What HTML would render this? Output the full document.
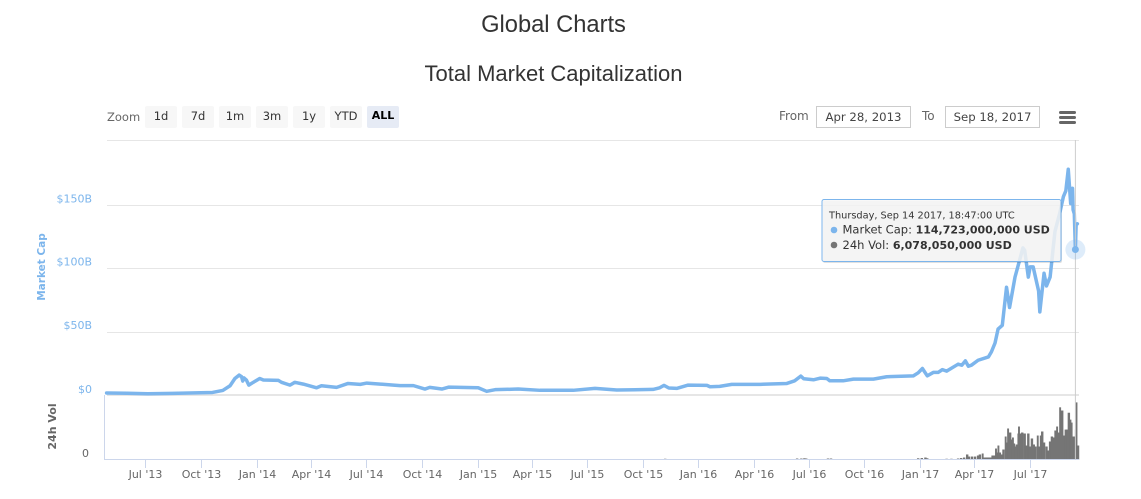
<!DOCTYPE html>
<html lang="en">
<head>
<meta charset="utf-8">
<title>Global Charts</title>
<style>
  html,body{margin:0;padding:0;background:#fff;width:1141px;height:499px;overflow:hidden}
  #stage{position:relative;width:1141px;height:499px;overflow:hidden;font-family:"DejaVu Sans",sans-serif}
  .abs{position:absolute;white-space:nowrap}
  h1,h2{margin:0;font-family:"Liberation Sans",sans-serif;font-weight:400;color:#333;text-align:center;position:absolute;left:0;width:1107px}
  h1{top:11px;font-size:23.7px;line-height:28px}
  h2{top:60px;font-size:22px;line-height:28px}
  .btn{position:absolute;top:106px;width:32px;height:22px;background:#f7f7f7;border-radius:2px;font-size:11.5px;line-height:20px;text-align:center;color:#333}
  .btn.on{background:#e6ebf5;color:#000;font-weight:700;font-size:11px}
  .lbl{position:absolute;font-size:12px;color:#666;line-height:20px;top:106px}
  .inp{position:absolute;top:106px;width:93px;height:20px;border:1px solid #ccc;font-size:11.7px;line-height:20px;text-align:center;color:#444;background:#fff}
  .bar-line{position:absolute;left:1059px;width:17px;height:3px;border-radius:2px;background:#666}
  svg{position:absolute;left:0;top:0}
  svg text{font-family:"DejaVu Sans",sans-serif}
</style>
</head>
<body>
<div id="stage">
  <h1>Global Charts</h1>
  <h2>Total Market Capitalization</h2>

  <div class="lbl" style="left:107px;top:107px;font-size:11.5px">Zoom</div>
  <div class="btn" style="left:145px">1d</div>
  <div class="btn" style="left:182px">7d</div>
  <div class="btn" style="left:219px">1m</div>
  <div class="btn" style="left:256px">3m</div>
  <div class="btn" style="left:293px">1y</div>
  <div class="btn" style="left:330px">YTD</div>
  <div class="btn on" style="left:367px">ALL</div>

  <div class="lbl" style="left:779px">From</div>
  <div class="inp" style="left:816px">Apr 28, 2013</div>
  <div class="lbl" style="left:922px">To</div>
  <div class="inp" style="left:945px">Sep 18, 2017</div>

  <div class="abs" style="left:1059px;top:110px;width:17px;height:15px">
    <div class="bar-line" style="left:0;top:1px"></div>
    <div class="bar-line" style="left:0;top:6px"></div>
    <div class="bar-line" style="left:0;top:11px"></div>
  </div>

  <svg id="chart" width="1141" height="499" viewBox="0 0 1141 499" xmlns="http://www.w3.org/2000/svg"></svg>
</div>

<script>
// ---- Market cap series (USD billions) ----
const capDates = ['2013-04-28','2013-06-01','2013-07-05','2013-08-15','2013-10-01','2013-10-20','2013-11-06','2013-11-18','2013-11-26','2013-12-03','2013-12-07','2013-12-09','2013-12-11','2013-12-15','2013-12-19','2013-12-26','2014-01-06','2014-01-12','2014-02-06','2014-02-11','2014-02-25','2014-03-05','2014-03-19','2014-04-10','2014-04-18','2014-05-13','2014-06-01','2014-06-21','2014-07-02','2014-08-15','2014-08-26','2014-09-17','2014-10-06','2014-10-14','2014-11-03','2014-11-14','2015-01-02','2015-01-16','2015-01-30','2015-03-09','2015-04-14','2015-06-08','2015-07-14','2015-08-19','2015-10-18','2015-10-29','2015-11-05','2015-11-13','2015-11-26','2015-12-15','2016-01-15','2016-01-20','2016-02-05','2016-02-25','2016-04-12','2016-05-26','2016-06-08','2016-06-18','2016-06-23','2016-07-09','2016-07-20','2016-07-31','2016-08-05','2016-08-27','2016-09-13','2016-10-16','2016-11-07','2016-12-21','2016-12-29','2017-01-05','2017-01-13','2017-01-23','2017-01-31','2017-02-07','2017-02-14','2017-03-05','2017-03-11','2017-03-17','2017-03-22','2017-03-27','2017-04-07','2017-04-24','2017-04-29','2017-05-05','2017-05-10','2017-05-17','2017-05-24','2017-05-29','2017-06-07','2017-06-15','2017-06-20','2017-06-23','2017-06-29','2017-07-02','2017-07-07','2017-07-16','2017-07-18','2017-07-25','2017-07-29','2017-08-04','2017-08-12','2017-08-20','2017-08-26','2017-08-30','2017-09-03','2017-09-07','2017-09-10','2017-09-11','2017-09-13','2017-09-14T18:47','2017-09-16','2017-09-18'];
const capValues = [1.6,1.4,1.0,1.3,1.8,2.0,3.6,7.3,13,15.7,14.4,11,13.5,11.8,7.8,9.9,13,11.8,11.5,10,7.8,10,8.6,5.7,7.3,6,9.1,8.4,9.4,7.8,7.4,7.4,4.7,6,4.7,6.2,5.7,2.9,4.2,4.7,3.7,3.7,5.2,3.9,4.4,5.7,7.6,5.5,5.2,7.8,7.6,6.5,6.8,8.4,8.4,9.1,11.2,14.9,12.8,12,13.3,13,11.2,11.2,12.5,12.5,14.4,15.1,17.5,20.9,15.1,17.8,17.8,20,18.8,24.3,23.5,26.9,22.7,23.5,27.4,30,34,41,52,55,85,69,93,107,116,114,93,101,101,82,65.5,96,86,93,129,143.5,156.5,161,178,151,163,146,143,114.723,134,135];

// ---- 24h volume series (USD billions) ----
const volDates = ['2015-11-05','2016-06-10','2016-06-17','2016-06-22','2016-06-25','2016-07-31','2016-08-05','2016-12-27','2017-01-02','2017-01-08','2017-01-11','2017-02-12','2017-02-20','2017-03-03','2017-03-08','2017-03-13','2017-03-18','2017-03-21','2017-03-26','2017-03-31','2017-04-05','2017-04-08','2017-04-13','2017-04-15','2017-04-18','2017-04-20','2017-04-22','2017-04-24','2017-04-26','2017-04-29','2017-05-01','2017-05-03','2017-05-05','2017-05-07','2017-05-09','2017-05-11','2017-05-14','2017-05-17','2017-05-21','2017-05-23','2017-05-25','2017-05-27','2017-05-28','2017-05-31','2017-06-02','2017-06-04','2017-06-06','2017-06-08','2017-06-11','2017-06-12','2017-06-14','2017-06-17','2017-06-21','2017-06-24','2017-06-27','2017-06-30','2017-07-03','2017-07-06','2017-07-09','2017-07-13','2017-07-15','2017-07-18','2017-07-20','2017-07-23','2017-07-27','2017-07-30','2017-08-02','2017-08-05','2017-08-08','2017-08-11','2017-08-14','2017-08-16','2017-08-19','2017-08-21','2017-08-22','2017-08-25','2017-08-28','2017-08-31','2017-09-02','2017-09-05','2017-09-07','2017-09-09','2017-09-12','2017-09-14','2017-09-15','2017-09-17','2017-09-18'];
const volValues = [0.15,0.2,0.2,0.25,0.2,0.2,0.2,0.25,0.3,0.4,0.25,0.15,0.15,0.2,0.3,0.4,1.02,0.6,0.6,0.6,0.81,1.02,1.22,0.4,0.41,0.41,0.41,0.41,0.41,0.81,0.81,0.81,2.23,1.42,2.84,1.42,1.02,2.03,4.67,3.45,6.3,4.06,5.48,4.06,4.47,3.25,2.64,3.05,5.28,6.7,5.28,5.48,5.28,2.84,5.28,2.64,4.27,3.05,2.64,4.87,2.64,4.87,5.69,3.45,2.64,1.83,3.66,4.67,4.47,5.89,6.7,5.48,10.6,6.08,9.95,4.87,6.08,6.08,9.5,8.1,7.5,4.67,4.67,6.078,11.6,2.84,2.84];

// ---- Axis ticks ----
const xTickDates = ['2013-07-01','2013-10-01','2014-01-01','2014-04-01','2014-07-01','2014-10-01','2015-01-01','2015-04-01','2015-07-01','2015-10-01','2016-01-01','2016-04-01','2016-07-01','2016-10-01','2017-01-01','2017-04-01','2017-07-01'];
const xTickLabels = ["Jul '13","Oct '13","Jan '14","Apr '14","Jul '14","Oct '14","Jan '15","Apr '15","Jul '15","Oct '15","Jan '16","Apr '16","Jul '16","Oct '16","Jan '17","Apr '17","Jul '17"];
const capTicks = [50,100,150];
const capTickLabels = ['$50B','$100B','$150B'];
const tooltipIndex = capDates.indexOf('2017-09-14T18:47');

// ---- Axis functions ----
const NS = 'http://www.w3.org/2000/svg';
const svg = document.getElementById('chart');
const startMs = Date.UTC(2013, 3, 28);
const plotL = 107, plotR = 1079, capBase = 395, volBase = 459.5;
function xAxis(d) { return 106.6 + (Date.parse(d + (d.length > 10 ? 'Z' : 'T00:00Z')) - startMs) / 86400000 * 0.6052; }
function capAxis(v) { return capBase - v * 1.268; }
function volAxis(v) { return volBase - v * 4.923; }
function make(tag, attrs, parent) {
  const el = document.createElementNS(NS, tag);
  for (const k in attrs) el.setAttribute(k, attrs[k]);
  (parent || svg).appendChild(el);
  return el;
}

// Plot top line and horizontal grid lines
const topLine = make('line', {x1: plotL, x2: plotR, y1: 140.5, y2: 140.5, stroke: '#e6e6e6'});



capTicks.forEach((v, i) => {
  const y = Math.round(capAxis(v)) + 0.5;
  const g = make('line', {x1: plotL, x2: plotR, y1: y, y2: y, stroke: '#e6e6e6'});
  
  
  const t = make('text', {x: 92, y: capAxis(v) - 2.5, 'text-anchor': 'end', 'font-size': 11, fill: '#7cb5ec'});
  t.textContent = capTickLabels[i];
  
  
});
const zeroLbl = make('text', {x: 92, y: 393, 'text-anchor': 'end', 'font-size': 11, fill: '#7cb5ec'});
zeroLbl.textContent = '$0';



// Pane divider
const divider = make('rect', {x: plotL, y: 394, width: plotR - plotL, height: 2, fill: '#e6e6e6'});



// Volume bars
volDates.forEach((d, i) => {
  const x = xAxis(d);
  const next = i < volDates.length - 1 ? xAxis(volDates[i + 1]) : x + 1.2;
  const w = Math.max(1, Math.min(next - x + 0.7, 2.4));
  const b = make('rect', {x: x, y: volAxis(volValues[i]), width: w, height: volBase - volAxis(volValues[i]), fill: '#757575'});
  
  
});

// Volume axes
const volY = make('line', {x1: 104.5, x2: 104.5, y1: 395, y2: 460, stroke: '#ccd6eb'});


const xLine = make('line', {x1: 105, x2: plotR, y1: 459.5, y2: 459.5, stroke: '#ccd6eb'});



xTickDates.forEach((d, i) => {
  const x = Math.round(xAxis(d)) + 0.5;
  const tk = make('line', {x1: x, x2: x, y1: 460, y2: 468, stroke: '#ccd6eb'});
  
  
  const t = make('text', {x: x, y: 478, 'text-anchor': 'middle', 'font-size': 11, fill: '#666'});
  t.textContent = xTickLabels[i];
  
  
});

const volZero = make('text', {x: 89, y: 457, 'text-anchor': 'end', 'font-size': 11, fill: '#666'});
volZero.textContent = '0';



// Axis titles
const capTitle = make('text', {x: 0, y: 0, 'text-anchor': 'middle', 'font-size': 10.5, 'font-weight': 700, fill: '#7cb5ec', transform: 'translate(45,267) rotate(-90)'});
capTitle.textContent = 'Market Cap';


const volTitle = make('text', {x: 0, y: 0, 'text-anchor': 'middle', 'font-size': 11, 'font-weight': 700, fill: '#666', transform: 'translate(56,426.5) rotate(-90)'});
volTitle.textContent = '24h Vol';



// Market cap line
const capPath = make('path', {
  d: capDates.map((d, i) => (i ? 'L' : 'M') + xAxis(d).toFixed(2) + ' ' + capAxis(capValues[i]).toFixed(2)).join(' '),
  fill: 'none', stroke: '#7cb5ec', 'stroke-width': 3.5, 'stroke-linejoin': 'round', 'stroke-linecap': 'round'
});



// Crosshair and hover marker
const mx = xAxis(capDates[tooltipIndex]);
const my = capAxis(capValues[tooltipIndex]);
const cross = make('line', {x1: mx, x2: mx, y1: 140, y2: 459.5, stroke: '#cccccc'});


const halo = make('circle', {cx: mx, cy: my, r: 10, fill: '#7cb5ec', 'fill-opacity': 0.25});


const dot = make('circle', {cx: mx, cy: my, r: 3.5, fill: '#7cb5ec'});



// Tooltip
const tip = make('g', {});


make('rect', {x: 823, y: 201, width: 239, height: 62, rx: 2, fill: '#000', 'fill-opacity': 0.12}, tip);
make('rect', {x: 822, y: 199.5, width: 239, height: 62, rx: 2, fill: '#f7f7f7', 'fill-opacity': 0.85, stroke: '#7cb5ec'}, tip);
const tipDate = make('text', {x: 829, y: 218.5, 'font-size': 9.75, fill: '#333'}, tip);
tipDate.textContent = 'Thursday, Sep 14 2017, 18:47:00 UTC';
make('circle', {cx: 834, cy: 230, r: 3.3, fill: '#7cb5ec'}, tip);
const tip1 = make('text', {x: 842.5, y: 233.5, 'font-size': 11.5, fill: '#333'}, tip);
tip1.textContent = 'Market Cap: ';
const tip1b = make('tspan', {'font-weight': 700, 'font-size': 11}, tip1);
tip1b.textContent = '114,723,000,000 USD';
make('circle', {cx: 834, cy: 245, r: 3.3, fill: '#757575'}, tip);
const tip2 = make('text', {x: 842.5, y: 249, 'font-size': 11.5, fill: '#333'}, tip);
tip2.textContent = '24h Vol: ';
const tip2b = make('tspan', {'font-weight': 700, 'font-size': 11}, tip2);
tip2b.textContent = '6,078,050,000 USD';
</script>
</body>
</html>
